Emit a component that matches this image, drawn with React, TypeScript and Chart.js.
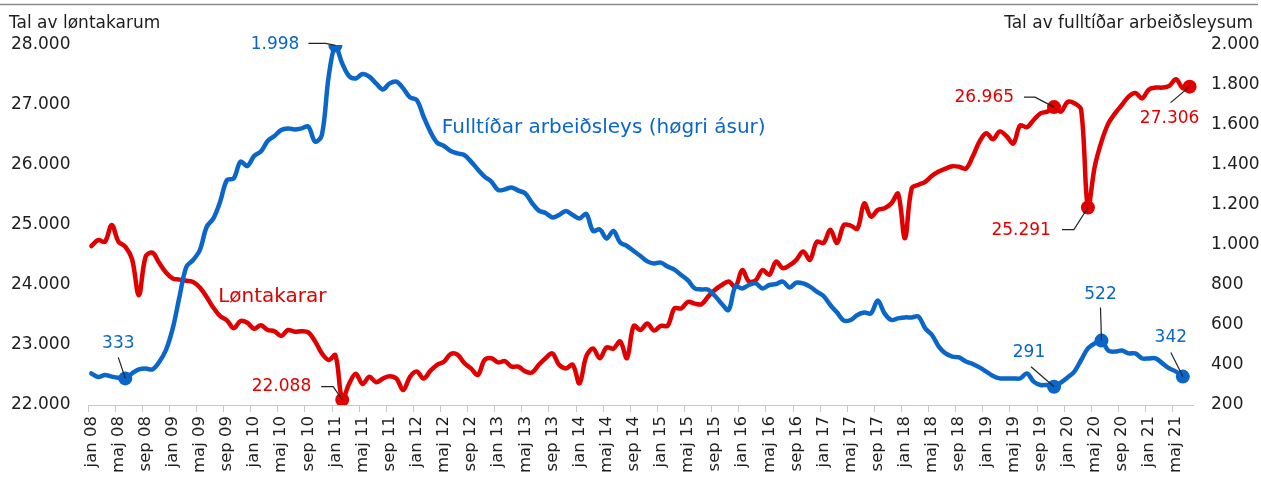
import React, { useEffect, useRef } from 'react';
import { Chart, registerables } from 'chart.js';

Chart.register(...registerables);

// ---------- data ----------
const MONTHS = ['jan', 'feb', 'mar', 'apr', 'maj', 'jun', 'jul', 'aug', 'sep', 'okt', 'nov', 'dec'];
const YEARS = ['08', '09', '10', '11', '12', '13', '14', '15', '16', '17', '18', '19', '20', '21'];
const LAST_MONTH_2021 = 6; // jul 21

const CATEGORIES: string[] = [];
YEARS.forEach((yy, yi) => {
  MONTHS.forEach((m, mi) => {
    if (yi === YEARS.length - 1 && mi > LAST_MONTH_2021) return;
    CATEGORIES.push(`${m} ${yy}`);
  });
});

// Løntakarar (left axis)
const EMPLOYEES: number[] = [
  24650, 24750, 24720, 25000, 24720, 24640, 24430, 23830, 24470, 24540, 24370, 24210,
  24110, 24090, 24070, 24050, 23960, 23800, 23620, 23480, 23410, 23280, 23400, 23370,
  23270, 23330, 23250, 23230, 23150, 23250, 23220, 23230, 23210, 23060, 22860, 22750,
  22830, 22088, 22350, 22520, 22350, 22470, 22380, 22440, 22480, 22440, 22250, 22470,
  22560, 22440, 22570, 22670, 22720, 22850, 22840, 22700, 22610, 22500, 22750, 22780,
  22710, 22730, 22640, 22640, 22560, 22540, 22670, 22780, 22860, 22670, 22610, 22670,
  22360, 22810, 22940, 22780, 22960, 22940, 23060, 22780, 23320, 23250, 23360, 23240,
  23320, 23320, 23610, 23610, 23720, 23690, 23680, 23810, 23920, 24000, 24060, 23970,
  24250, 24060, 24080, 24250, 24170, 24390, 24280, 24330, 24420, 24560, 24420, 24720,
  24700, 24920, 24700, 25000, 24990, 24940, 25360, 25140, 25250, 25280, 25360, 25520,
  24780, 25610, 25670, 25720, 25820, 25890, 25940, 25980, 25970, 25940, 26140, 26390,
  26530, 26430, 26560, 26480, 26360, 26660, 26630, 26750, 26860, 26890, 26965, 26890,
  27050, 27030, 26920, 25291, 25970, 26390, 26690, 26860, 27000, 27140, 27200, 27110,
  27260, 27290, 27290, 27320, 27430, 27280, 27306,
];

// Fulltíðar arbeiðsleys (right axis)
const UNEMPLOYED: (number | null)[] = [
  358, 340, 350, 342, 336, 333, 358, 378, 383, 378, 415, 475,
  583, 742, 890, 925, 975, 1090, 1133, 1217, 1325, 1333, 1417, 1395,
  1445, 1467, 1520, 1545, 1575, 1583, 1578, 1583, 1592, 1517, 1550, 1842,
  1998, 1908, 1845, 1833, 1855, 1842, 1808, 1778, 1808, 1817, 1783, 1738,
  1725, 1642, 1567, 1512, 1495, 1470, 1458, 1450, 1417, 1378, 1342, 1317,
  1275, 1278, 1288, 1272, 1258, 1210, 1172, 1160, 1138, 1150, 1170, 1150,
  1133, 1156, 1070, 1078, 1033, 1070, 1012, 995, 970, 945, 918, 908,
  912, 892, 877, 850, 823, 783, 778, 776, 745, 705, 675, 793,
  783, 800, 808, 783, 800, 805, 817, 788, 812, 808, 792, 767,
  745, 700, 662, 622, 625, 650, 662, 658, 722, 658, 625, 633,
  638, 638, 642, 583, 550, 492, 458, 442, 438, 417, 405, 388,
  367, 345, 333, 333, 333, 333, 358, 317, 300, 300, 291, 312,
  338, 367, 425, 483, 508, 522, 472, 467, 472, 458, 458, 433,
  433, 433, 408, 383, 367, 342, null,
];

const LEFT_TICKS = { min: 22000, max: 28000, step: 1000 };
const RIGHT_TICKS = { min: 200, max: 2000, step: 200 };

const EMPLOYEE_MARKS = [37, 142, 147, 162];
const UNEMPLOYED_MARKS = [5, 36, 142, 149, 161];

// ---------- style ----------
const BLUE = '#0a66c8';
const RED = '#e10000';
const TEXT = '#1e1e1e';
const AXIS = '#c8c8c8';
const FONT = '"DejaVu Sans", Verdana, sans-serif';

// label layout relative to the marked point: [text dx, dy, align], leader path
type Ann = { ds: number; index: number; dx: number; dy: number; align: CanvasTextAlign; leader: [number, number][] };
const ANNOTATIONS: Ann[] = [
  { ds: 0, index: 36, dx: -36, dy: -1, align: 'right', leader: [[-27, -2], [-10, -2]] },
  { ds: 0, index: 5, dx: -7, dy: -35, align: 'center', leader: [[-7, -21]] },
  { ds: 0, index: 142, dx: -25, dy: -34, align: 'center', leader: [[-23, -20]] },
  { ds: 0, index: 149, dx: -1, dy: -46, align: 'center', leader: [[-1, -33]] },
  { ds: 0, index: 161, dx: -12, dy: -39, align: 'center', leader: [[-12, -24]] },
  { ds: 1, index: 37, dx: -31, dy: -13, align: 'right', leader: [[-21, -13], [-9, -13]] },
  { ds: 1, index: 142, dx: -40, dy: -10, align: 'right', leader: [[-30, -10], [-19, -10]] },
  { ds: 1, index: 147, dx: -37, dy: 23, align: 'right', leader: [[-26, 22], [-14, 22]] },
  { ds: 1, index: 162, dx: -20, dy: 32, align: 'center', leader: [[-19, 16]] },
];

const SERIES_LABELS = [
  { text: 'Fulltíðar arbeiðsleys (høgri ásur)', xIndex: 51.7, value: 1585, scale: 'y1', color: BLUE },
  { text: 'Løntakarar', xIndex: 18.7, value: 23800, scale: 'y', color: RED },
];

const fmt = (v: number) => String(Math.round(v)).replace(/\B(?=(\d{3})+(?!\d))/g, '.');

const overlay = {
  id: 'overlay',
  afterDatasetsDraw(chart: any) {
    const ctx: CanvasRenderingContext2D = chart.ctx;
    ctx.save();
    // series labels
    ctx.textBaseline = 'middle';
    ctx.textAlign = 'left';
    ctx.font = `20px ${FONT}`;
    for (const s of SERIES_LABELS) {
      const x = chart.scales.x.getPixelForValue(s.xIndex);
      const y = chart.scales[s.scale].getPixelForValue(s.value);
      ctx.fillStyle = s.color;
      ctx.fillText(s.text, x, y);
    }
    // point annotations
    ctx.font = `17px ${FONT}`;
    for (const a of ANNOTATIONS) {
      const meta = chart.getDatasetMeta(a.ds);
      const pt = meta.data[a.index];
      if (!pt) continue;
      const x = pt.x;
      const y = pt.y;
      const data = chart.data.datasets[a.ds].data as number[];
      ctx.strokeStyle = '#222';
      ctx.lineWidth = 1.2;
      ctx.beginPath();
      a.leader.forEach(([dx, dy], k) => {
        if (k === 0) ctx.moveTo(x + dx, y + dy);
        else ctx.lineTo(x + dx, y + dy);
      });
      ctx.lineTo(x, y);
      ctx.stroke();
      ctx.fillStyle = a.ds === 0 ? BLUE : RED;
      ctx.textAlign = a.align;
      ctx.fillText(fmt(data[a.index]), x + a.dx, y + a.dy);
    }
    ctx.restore();
  },
  afterDraw(chart: any) {
    const ctx: CanvasRenderingContext2D = chart.ctx;
    ctx.save();
    ctx.strokeStyle = '#8a8a8a';
    ctx.lineWidth = 1.5;
    ctx.beginPath();
    ctx.moveTo(0, 4.5);
    ctx.lineTo(1258, 4.5);
    ctx.stroke();
    ctx.font = `17px ${FONT}`;
    ctx.fillStyle = TEXT;
    ctx.textBaseline = 'middle';
    ctx.textAlign = 'left';
    ctx.fillText('Tal av løntakarum', 9, 24);
    ctx.textAlign = 'right';
    ctx.fillText('Tal av fulltíðar arbeiðsleysum', 1253, 24);
    ctx.restore();
  },
};

export default function App() {
  const ref = useRef<HTMLCanvasElement | null>(null);
  useEffect(() => {
    document.body.style.margin = '0';
    document.body.style.overflow = 'hidden';
    const canvas = ref.current;
    if (!canvas) return;
    const chart = new Chart(canvas, {
      type: 'line',
      data: {
        labels: CATEGORIES,
        datasets: [
          {
            label: 'Fulltíðar arbeiðsleys',
            data: UNEMPLOYED,
            yAxisID: 'y1',
            borderColor: BLUE,
            backgroundColor: BLUE,
            borderWidth: 4.5,
            tension: 0.35,
            borderCapStyle: 'round',
            borderJoinStyle: 'round',
            pointRadius: (c: any) => (UNEMPLOYED_MARKS.includes(c.dataIndex) ? 7 : 0),
            pointHoverRadius: 0,
            pointBorderWidth: 0,
            pointBackgroundColor: BLUE,
          },
          {
            label: 'Løntakarar',
            data: EMPLOYEES,
            yAxisID: 'y',
            borderColor: RED,
            backgroundColor: RED,
            borderWidth: 4.5,
            tension: 0.35,
            borderCapStyle: 'round',
            borderJoinStyle: 'round',
            pointRadius: (c: any) => (EMPLOYEE_MARKS.includes(c.dataIndex) ? 7 : 0),
            pointHoverRadius: 0,
            pointBorderWidth: 0,
            pointBackgroundColor: RED,
          },
        ],
      } as any,
      options: {
        responsive: false,
        animation: false,
        events: [],
        layout: { padding: { left: 11, right: 0, top: 45, bottom: 0 } },
        plugins: {
          legend: { display: false },
          tooltip: { enabled: false },
          title: { display: false },
        },
        scales: {
          x: {
            type: 'category',
            offset: true,
            grid: {
              display: true,
              offset: true,
              drawOnChartArea: false,
              drawTicks: true,
              tickLength: 7,
              lineWidth: 1,
              color: AXIS,
              tickColor: (c: any) => (c.index % 4 === 0 ? AXIS : 'rgba(0,0,0,0)'),
            },
            border: { display: true, color: AXIS, width: 1 },
            ticks: {
              autoSkip: false,
              minRotation: 90,
              maxRotation: 90,
              padding: 4,
              color: TEXT,
              font: { family: FONT, size: 16.5 },
              callback: (_v: any, i: number) => (i % 4 === 0 ? CATEGORIES[i] : ''),
            },
            afterFit: (s: any) => {
              s.height = 72;
            },
          },
          y: {
            position: 'left',
            min: LEFT_TICKS.min,
            max: LEFT_TICKS.max,
            grid: { display: false, drawTicks: false },
            border: { display: false },
            ticks: {
              stepSize: LEFT_TICKS.step,
              crossAlign: 'far',
              padding: 0,
              color: TEXT,
              font: { family: FONT, size: 17 },
              callback: (v: any) => fmt(Number(v)),
            },
            afterFit: (s: any) => {
              s.width = 77;
            },
          },
          y1: {
            position: 'right',
            min: RIGHT_TICKS.min,
            max: RIGHT_TICKS.max,
            grid: { display: false, drawTicks: false },
            border: { display: false },
            ticks: {
              stepSize: RIGHT_TICKS.step,
              padding: 18,
              color: TEXT,
              font: { family: FONT, size: 17 },
              callback: (v: any) => fmt(Number(v)),
            },
            afterFit: (s: any) => {
              s.width = 68;
            },
          },
        },
      } as any,
      plugins: [overlay],
    });
    return () => chart.destroy();
  }, []);

  return (
    <canvas
      ref={ref}
      width={1261}
      height={477}
      style={{ position: 'absolute', left: 0, top: 0, width: 1261, height: 477, display: 'block' }}
    />
  );
}
